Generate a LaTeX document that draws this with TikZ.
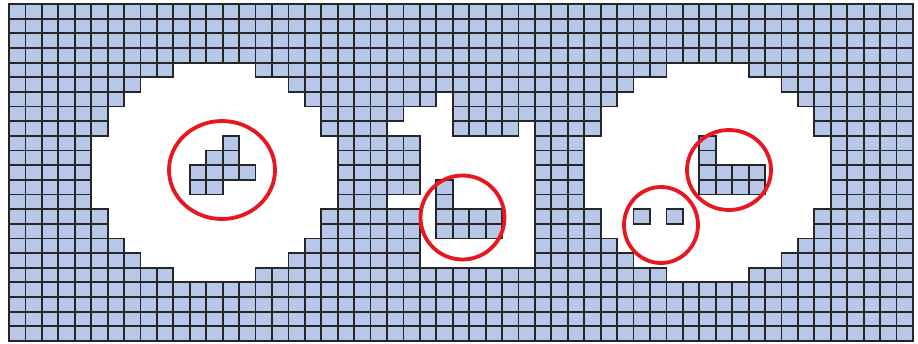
\documentclass[tikz,border=0pt]{standalone}
\definecolor{cellblue}{RGB}{183,199,231}
\definecolor{circred}{RGB}{232,22,30}
\begin{document}
\begin{tikzpicture}[x=1pt,y=-1pt,
  cell/.style={fill=cellblue,draw=black!85,line width=1.8pt},
  ring/.style={draw=circred,line width=3.8pt}]
\useasboundingbox (0,0) rectangle (918,343);
\def\cw{16.436}
\def\ch{14.652}
\draw[cell]
\foreach \r/\segs in {
  0/{0/54}, 1/{0/54}, 2/{0/54}, 3/{0/54},
  4/{0/9,15/39,45/54},
  5/{0/7,17/37,47/54},
  6/{0/6,18/25,27/36,48/54},
  7/{0/5,19/23,27/35,49/54},
  8/{0/5,19/22,27/30,32/35,49/54},
  9/{0/4,13/13,20/24,32/34,42/42,50/54},
  10/{0/4,12/13,20/24,32/34,42/42,50/54},
  11/{0/4,11/14,20/24,32/34,42/45,50/54},
  12/{0/4,11/12,20/24,26/26,32/34,42/45,50/54},
  13/{0/4,20/22,26/26,32/34,50/54},
  14/{0/5,19/24,26/29,32/35,38/38,40/40,49/54},
  15/{0/5,19/24,26/29,32/35,49/54},
  16/{0/6,18/24,32/36,48/54},
  17/{0/7,17/24,32/37,47/54},
  18/{0/9,15/39,45/54},
  19/{0/54}, 20/{0/54}, 21/{0/54}, 22/{0/54}}{
  \foreach \a/\b in \segs {
    \foreach \c in {\a,...,\b} {
      ({9+\c*\cw},{4+\r*\ch}) rectangle ++(\cw,\ch)
    }
  }
};
\draw[ring] (222,170) ellipse [x radius=53, y radius=49];
\draw[ring] (462.5,217.5) ellipse [x radius=42, y radius=42];
\draw[ring] (729,170) ellipse [x radius=42, y radius=40];
\draw[ring] (661,225) ellipse [x radius=37, y radius=38];
\end{tikzpicture}
\end{document}
